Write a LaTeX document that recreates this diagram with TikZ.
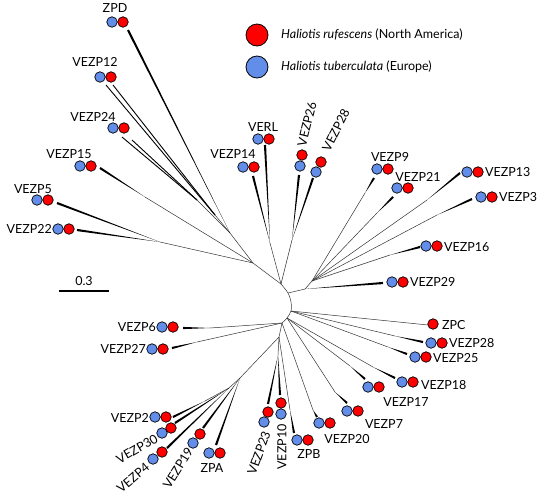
\documentclass[tikz,border=0pt]{standalone}
\usepackage{fontspec}
\setmainfont{Lato}
\usetikzlibrary{calc}
\definecolor{htblue}{RGB}{98,141,232}
\definecolor{hrred}{RGB}{255,0,0}
\newcommand\leafw[2]{\fill[black] (#1) -- ($(#2)!1.1pt!90:(#1)$) -- ($(#2)!1.1pt!-90:(#1)$) -- cycle;}
\tikzset{
  br/.style={draw=black!80,line width=0.5pt},
  pr/.style={draw=black,line width=0.9pt},
  ht/.style={circle,draw=black,line width=0.7pt,fill=htblue,minimum size=10.5pt,inner sep=0pt},
  hr/.style={circle,draw=black,line width=0.7pt,fill=hrred,minimum size=10.5pt,inner sep=0pt},
  bigt/.style={circle,draw=black,line width=0.8pt,fill=htblue,minimum size=22pt,inner sep=0pt},
  bigr/.style={circle,draw=black,line width=0.8pt,fill=hrred,minimum size=22pt,inner sep=0pt},
  lab/.style={font=\fontsize{12.5}{14}\selectfont,inner sep=0pt},
}
\begin{document}
\begin{tikzpicture}[x=1pt,y=-1pt]
\useasboundingbox (0,0) rectangle (540,496);
% ---------- internal coordinates
\coordinate (a0) at (281,284);
\coordinate (a1) at (288,293);
\coordinate (a2) at (291,302);
\coordinate (a3) at (291,311);
\coordinate (a4) at (287,318);
\coordinate (a5) at (282,323);
\draw[br] plot[smooth] coordinates {(a0) (a1) (a2) (a3) (a4) (a5)};
\coordinate (nL) at (253,263);
\coordinate (nZ) at (230,233);
\coordinate (k12) at (215,215);
\coordinate (k24) at (197,200);
\coordinate (n15) at (145,197);
\coordinate (n5) at (160,242);
\coordinate (nV) at (270,243);
\coordinate (n26) at (292,240);
\coordinate (nR) at (305,289);
\coordinate (nR2) at (312,281);
\coordinate (k9) at (365,193);
\coordinate (k21) at (377,213);
\coordinate (k13) at (427,200);
\coordinate (k3) at (437,215);
\coordinate (k16) at (390,255);
\coordinate (k28) at (395,336);
\coordinate (k25) at (388,347);
\coordinate (k18) at (373,367);
\coordinate (k17) at (350,366);
\coordinate (k7) at (335,392);
\coordinate (k20) at (313,410);
\coordinate (k6) at (210,328);
\coordinate (k27) at (197,342);
\coordinate (nB) at (279,337);
\coordinate (nM) at (278,355);
\coordinate (kB) at (290,410);
\coordinate (nBL) at (240,378);
\coordinate (nBL2) at (229,388);
\coordinate (k2) at (205,401);
% ---------- tips
\coordinate (tZPD) at (128,30);
\coordinate (t12a) at (106,85);
\coordinate (t12b) at (113,85);
\coordinate (t24a) at (122,137);
\coordinate (t24b) at (132,140);
\coordinate (t15) at (100,168);
\coordinate (t5) at (57,203);
\coordinate (t22) at (77,230);
\coordinate (tVERL) at (265,145);
\coordinate (t14) at (253,176);
\coordinate (t26) at (299,175);
\coordinate (t28u) at (313,178);
\coordinate (t29) at (383,283);
\coordinate (t9) at (374,178);
\coordinate (t21) at (393,197);
\coordinate (t13) at (460,173);
\coordinate (t3) at (472,199);
\coordinate (t16) at (420,247);
\coordinate (tZPC) at (428,325);
\coordinate (t28l) at (423,342);
\coordinate (t25) at (407,354);
\coordinate (t18) at (395,378);
\coordinate (t17) at (365,379);
\coordinate (t7) at (347,403);
\coordinate (t20) at (317,417);
\coordinate (t6) at (183,328);
\coordinate (t27) at (172,348);
\coordinate (t23) at (268,404);
\coordinate (t10) at (280,395);
\coordinate (tZPB) at (294,433);
\coordinate (t2) at (173,417);
\coordinate (t30) at (175,423);
\coordinate (t4) at (167,448);
\coordinate (t19) at (203,428);
\coordinate (tZPA) at (216,445);
% ---------- thin branches
\draw[br] (nL) -- (a0);
\draw[br] (nZ) -- (nL);
\draw[br] (n15) -- (nL);
\draw[br] (n5) -- (nL);
\draw[br] (nV) -- (a0);
\draw[br] (n26) -- (a0);
\draw[br] (nR) -- (a1);
\draw[br] (nR2) -- (nR);
\draw[br] (k9) -- (nR2);
\draw[br] (k21) -- (nR2);
\draw[br] (k13) -- (nR2);
\draw[br] (k3) -- (nR2);
\draw[br] (k16) -- (nR2);
\draw[br] (tZPC) -- (a3);
\draw[br] (k28) -- (a3);
\draw[br] (k25) -- (a3);
\draw[br] (k18) -- (a4);
\draw[br] (k17) -- (a4);
\draw[br] (k7) -- (a4);
\draw[br] (k20) -- (a5);
\draw[br] (k6) -- (a5);
\draw[br] (k27) -- (a5);
\draw[br] (nB) -- (a5);
\draw[br] (nM) -- (nB);
\draw[br] (kB) -- (nB);
\draw[br] (nBL) -- (nB);
\draw[br] (nBL2) -- (nBL);
\draw[br] (k2) -- (nBL2);
\draw[br] (k12) -- (nZ);
\draw[br] (k24) -- (nZ);
% ---------- pendant (thick) branches
\leafw{nZ}{tZPD}
\draw[pr] (k12) -- (t12a);
\draw[pr] (k12) -- (t12b);
\draw[pr] (k24) -- (t24a);
\draw[pr] (k24) -- (t24b);
\leafw{n15}{t15}
\leafw{n5}{t5}
\leafw{n5}{t22}
\leafw{nV}{tVERL}
\leafw{nV}{t14}
\leafw{n26}{t26}
\leafw{n26}{t28u}
\leafw{nR}{t29}
\leafw{k9}{t9}
\leafw{k21}{t21}
\leafw{k13}{t13}
\leafw{k3}{t3}
\leafw{k16}{t16}
\leafw{k28}{t28l}
\leafw{k25}{t25}
\leafw{k18}{t18}
\leafw{k17}{t17}
\leafw{k7}{t7}
\leafw{k20}{t20}
\leafw{k6}{t6}
\leafw{k27}{t27}
\leafw{nM}{t23}
\leafw{nM}{t10}
\leafw{kB}{tZPB}
\leafw{k2}{t2}
\leafw{nBL2}{t30}
\leafw{nBL2}{t4}
\leafw{nBL}{t19}
\leafw{nBL}{tZPA}
% ---------- circles
\node[ht] (cZPDb) at (112,22) {}; \node[hr] (cZPDr) at (123,22) {};
\node[ht] (c12b) at (100,77) {}; \node[hr] (c12r) at (111,77) {};
\node[ht] (c24b) at (113,128) {}; \node[hr] (c24r) at (124,128) {};
\node[ht] (c15b) at (80,166) {}; \node[hr] (c15r) at (91,166) {};
\node[ht] (c5b) at (37,200) {}; \node[hr] (c5r) at (48,200) {};
\node[ht] (c22b) at (58,229) {}; \node[hr] (c22r) at (69,229) {};
\node[ht] (cVERLb) at (258,139) {}; \node[hr] (cVERLr) at (269,139) {};
\node[ht] (c14b) at (243,167) {}; \node[hr] (c14r) at (254,167) {};
\node[hr] (c26r) at (302,155) {}; \node[ht] (c26b) at (300,166) {};
\node[hr] (c28ur) at (321,162) {}; \node[ht] (c28ub) at (316,172) {};
\node[ht] (c9b) at (377,169) {}; \node[hr] (c9r) at (388,169) {};
\node[ht] (c21b) at (397,188) {}; \node[hr] (c21r) at (408,188) {};
\node[ht] (c13b) at (467,172) {}; \node[hr] (c13r) at (478,172) {};
\node[ht] (c3b) at (481,197) {}; \node[hr] (c3r) at (492,197) {};
\node[ht] (c16b) at (426,246) {}; \node[hr] (c16r) at (437,246) {};
\node[ht] (c29b) at (392,282) {}; \node[hr] (c29r) at (403,282) {};
\node[hr] (cZPCr) at (433,324) {};
\node[ht] (c28lb) at (431,343) {}; \node[hr] (c28lr) at (442,343) {};
\node[ht] (c25b) at (415,357) {}; \node[hr] (c25r) at (426,357) {};
\node[ht] (c18b) at (402,382) {}; \node[hr] (c18r) at (413,382) {};
\node[ht] (c17b) at (368,387) {}; \node[hr] (c17r) at (379,387) {};
\node[ht] (c7b) at (347,411) {}; \node[hr] (c7r) at (358,411) {};
\node[ht] (c20b) at (319,423) {}; \node[hr] (c20r) at (330,423) {};
\node[ht] (cZPBb) at (297,440) {}; \node[hr] (cZPBr) at (308,440) {};
\node[hr] (c10r) at (281,403) {}; \node[ht] (c10b) at (281,414) {};
\node[hr] (c23r) at (268,412) {}; \node[ht] (c23b) at (264,422) {};
\node[ht] (cZPAb) at (209,453) {}; \node[hr] (cZPAr) at (220,453) {};
\node[hr] (c19r) at (200,434) {}; \node[ht] (c19b) at (193,443) {};
\node[hr] (c4r) at (162,452) {}; \node[ht] (c4b) at (153,459) {};
\node[hr] (c30r) at (171,428) {}; \node[ht] (c30b) at (162,433) {};
\node[ht] (c2b) at (155,417) {}; \node[hr] (c2r) at (166,417) {};
\node[ht] (c6b) at (162,327) {}; \node[hr] (c6r) at (173,327) {};
\node[ht] (c27b) at (152,349) {}; \node[hr] (c27r) at (163,349) {};
% ---------- labels
\node[lab] (lZPD) at (115,8) {ZPD};
\node[lab] (l12) at (95,62) {VEZP12};
\node[lab] (l24) at (93,117) {VEZP24};
\node[lab] (l15) at (69,154) {VEZP15};
\node[lab] (l5) at (33,189) {VEZP5};
\node[lab,anchor=east] (l22) at (52,229) {VEZP22};
\node[lab] (lVERL) at (263,127) {VERL};
\node[lab] (l14) at (233,154) {VEZP14};
\node[lab,rotate=76] (l26) at (307,124) {VEZP26};
\node[lab,rotate=63] (l28u) at (336,130) {VEZP28};
\node[lab] (l9) at (390,157) {VEZP9};
\node[lab] (l21) at (418,177) {VEZP21};
\node[lab,anchor=west] (l13) at (485,172) {VEZP13};
\node[lab,anchor=west] (l3) at (499,197) {VEZP3};
\node[lab,anchor=west] (l16) at (444,247) {VEZP16};
\node[lab,anchor=west] (l29) at (410,282) {VEZP29};
\node[lab,anchor=west] (lZPC) at (442,325) {ZPC};
\node[lab,anchor=west] (l28l) at (449,343) {VEZP28};
\node[lab,anchor=west] (l25) at (433,358) {VEZP25};
\node[lab,anchor=west] (l18) at (421,385) {VEZP18};
\node[lab] (l17) at (406,402) {VEZP17};
\node[lab] (l7) at (384,424) {VEZP7};
\node[lab] (l20) at (347,439) {VEZP20};
\node[lab] (lZPB) at (309,454) {ZPB};
\node[lab,rotate=90] (l10) at (282,447) {VEZP10};
\node[lab,rotate=70] (l23) at (259,453) {VEZP23};
\node[lab] (lZPA) at (212,468) {ZPA};
\node[lab,rotate=58] (l19) at (178,468) {VEZP19};
\node[lab,rotate=40] (l4) at (133,478) {VEZP4};
\node[lab,rotate=30] (l30) at (137,449) {VEZP30};
\node[lab,anchor=east] (l2) at (149,418) {VEZP2};
\node[lab,anchor=east] (l6) at (156,327) {VEZP6};
\node[lab,anchor=east] (l27) at (146,349) {VEZP27};
% ---------- scale bar
\coordinate (s0) at (59,291);
\coordinate (s1) at (109,291);
\draw[black,line width=1.3pt] (s0) -- (s1);
\node[lab] (lscale) at (84,281) {0.3};
% ---------- legend
\node[bigr] (legr) at (257,35) {};
\node[bigt] (legt) at (257,67) {};
\node[lab,anchor=west] (legrt) at (281,35) {\textit{Haliotis rufescens} (North America)};
\node[lab,anchor=west] (legtt) at (281,67) {\textit{Haliotis tuberculata} (Europe)};
\end{tikzpicture}
\end{document}
